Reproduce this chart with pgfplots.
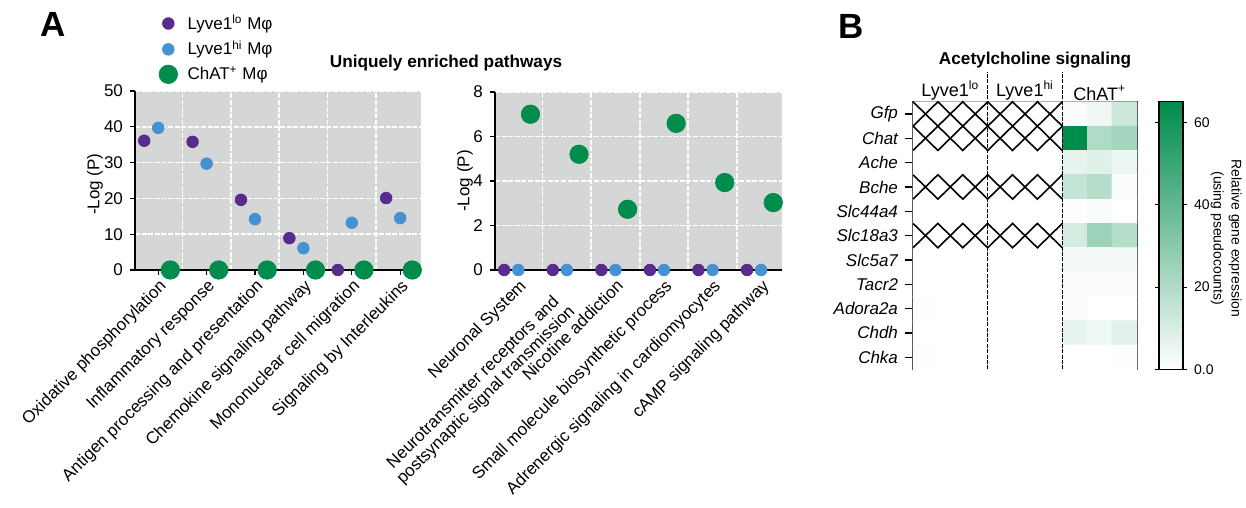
\documentclass[border=0pt]{standalone}
\usepackage{fontspec}
\setmainfont{Liberation Sans}
\usepackage{pgfplots}
\usepackage{pgfplotstable}
\pgfplotsset{compat=1.18}
\definecolor{cpurple}{RGB}{88,44,140}
\definecolor{cblue}{RGB}{70,145,210}
\definecolor{cgreen}{RGB}{0,140,75}
\definecolor{bggray}{RGB}{213,214,214}
\pgfplotsset{/pgf/number format/assume math mode=true}
\pgfplotsset{
 dotplot/.style={
   scale only axis, width=143pt, height=89.5pt,
   xmin=-0.48, xmax=5.43, ymin=0,
   axis x line*=bottom, axis y line*=left,
   axis line style={black, line width=0.65pt},
   axis background/.style={fill=bggray},
   xtick={0,...,5},
   minor xtick={0.5,1.5,2.5,3.5,4.5},
   xminorgrids, ymajorgrids,
   grid style={white, line width=0.8pt, dash pattern=on 2.5pt off 0.8pt},
   tick align=outside, major tick length=2.5pt, minor tick length=0pt,
   tick style={black, line width=0.65pt},
   x tick label style={rotate=45, anchor=north east, font=\fontsize{8.5}{9}\selectfont, align=center, inner sep=1pt},
   y tick label style={font=\fontsize{8.5}{10}\selectfont},
   ylabel={-Log (P)}, ylabel style={font=\fontsize{8.5}{10}\selectfont, anchor=center},
   clip=false,
 },
 legdot/.style={legend image code/.code={\draw[mark repeat=2,mark phase=2,##1] plot coordinates {(0pt,0pt)(5pt,0pt)(12pt,0pt)};}},
 pdot/.style={only marks, mark=*, mark size=2.9pt, color=cpurple, legdot},
 bdot/.style={only marks, mark=*, mark size=2.9pt, color=cblue, legdot},
 gdot/.style={only marks, mark=*, mark size=4.6pt, color=cgreen, legdot},
}
\pgfplotstableread{
x y c
0 0 0
1 0 0
2 0 0
3 0 0
4 0 0
5 0 0
6 0 1.5
7 0 4
8 0 13
0 1 0
1 1 0
2 1 0
3 1 0
4 1 0
5 1 0
6 1 65
7 1 20
8 1 23
0 2 0
1 2 0
2 2 0
3 2 0
4 2 0
5 2 0
6 2 6
7 2 8
8 2 5
0 3 0
1 3 0
2 3 0
3 3 0
4 3 0
5 3 0
6 3 15
7 3 19
8 3 1
0 4 0
1 4 0
2 4 0
3 4 0
4 4 0
5 4 0
6 4 0.3
7 4 1
8 4 0
0 5 0
1 5 0
2 5 0
3 5 0
4 5 0
5 5 0
6 5 11
7 5 25
8 5 19
0 6 0
1 6 0
2 6 0
3 6 0
4 6 0
5 6 0
6 6 3
7 6 3
8 6 3
0 7 0
1 7 0
2 7 0
3 7 0
4 7 0
5 7 0
6 7 1.5
7 7 1
8 7 1.5
0 8 0.8
1 8 0
2 8 0
3 8 0
4 8 0
5 8 0
6 8 1.5
7 8 0
8 8 0
0 9 0
1 9 0
2 9 0
3 9 0
4 9 0
5 9 0
6 9 6
7 9 4
8 9 7
0 10 0.8
1 10 0
2 10 0
3 10 0
4 10 0
5 10 0
6 10 0
7 10 0
8 10 0.3
}\heat
\begin{document}
\begin{tikzpicture}
\useasboundingbox (0,0) rectangle (623pt,254pt);
% ---------- left panel ----------
\begin{axis}[dotplot,
  at={(67.5pt,119pt)}, anchor=south west,
  ymax=50, ytick={0,10,...,50},
  ylabel style={at={(axis description cs:-0.14,0.48)}},
  xticklabels={Oxidative phosphorylation, Inflammatory response, Antigen processing and presentation, Chemokine signaling pathway, Mononuclear cell migration, Signaling by Interleukins},
  legend style={draw=none, fill=none, at={(axis description cs:0.083,1.45)}, anchor=north west,
    font=\fontsize{8.5}{10}\selectfont, row sep=0.3pt, inner sep=0pt,
    /tikz/every odd column/.append style={column sep=3pt}},
  legend cell align=left,
]
\addplot[pdot] coordinates {(-0.29,36.1) (0.71,35.8) (1.71,19.6) (2.71,8.9) (3.71,0) (4.71,20.1)};
\addplot[bdot] coordinates {(0,39.7) (1,29.7) (2,14.2) (3,6.1) (4,13.2) (5,14.5)};
\addplot[gdot] coordinates {(0.25,0) (1.25,0) (2.25,0) (3.25,0) (4.25,0) (5.25,0)};
\legend{Lyve1\textsuperscript{lo} Mφ, Lyve1\textsuperscript{hi} Mφ, ChAT\textsuperscript{+} Mφ}
\end{axis}
% ---------- middle panel ----------
\begin{axis}[dotplot,
  at={(247.5pt,119pt)}, anchor=south west, width=143.5pt, height=89pt,
  ymax=8, ytick={0,2,...,8},
  ylabel style={at={(axis description cs:-0.105,0.5)}},
  xticklabels={Neuronal System, {}, Nicotine addiction, Small molecule biosynthetic process, Adrenergic signaling in cardiomyocytes, cAMP signaling pathway},
  extra x ticks={1},
  extra x tick labels={{Neurotransmitter receptors and\\postsynaptic signal transmission}},
  extra x tick style={x tick label style={xshift=-9pt}},
]
\addplot[pdot] coordinates {(-0.29,0) (0.71,0) (1.71,0) (2.71,0) (3.71,0) (4.71,0)};
\addplot[bdot] coordinates {(0,0) (1,0) (2,0) (3,0) (4,0) (5,0)};
\addplot[gdot] coordinates {(0.25,7.0) (1.25,5.2) (2.25,2.73) (3.25,6.59) (4.25,3.93) (5.25,3.03)};
\end{axis}
% ---------- heatmap ----------
\begin{axis}[
  at={(456.5pt,69.3pt)}, anchor=south west, scale only axis, width=112pt, height=133.8pt,
  xmin=-0.5, xmax=8.5, ymin=-0.5, ymax=10.5, y dir=reverse, enlargelimits=false,
  axis line style={black, line width=0.65pt},
  xtick={1,4,7}, xticklabels={Lyve1\textsuperscript{lo}, Lyve1\textsuperscript{hi}, ChAT\textsuperscript{+}},
  xticklabel pos=upper, x tick style={draw=none},
  x tick label style={font=\fontsize{9}{10}\selectfont, yshift=-7pt},
  ytick={0,...,10},
  yticklabels={Gfp,Chat,Ache,Bche,Slc44a4,Slc18a3,Slc5a7,Tacr2,Adora2a,Chdh,Chka},
  ytick pos=left, y tick label style={font=\fontsize{8.5}{10}\selectfont\itshape},
  tick align=outside, major tick length=4pt, y tick style={black, line width=0.65pt},
  colormap={gr}{rgb255(0)=(255,255,255) rgb255(65)=(0,140,75)},
  point meta min=0, point meta max=65,
  colorbar,
  colorbar style={at={(parent axis.south east)}, anchor=south west, xshift=2.5pt,
    scale only axis, width=12pt, height=133.8pt,
    ytick={0,20,40,60}, yticklabels={0.0,20,40,60},
    y tick label style={font=\fontsize{7}{8}\selectfont},
    tick align=outside, major tick length=2pt, y tick style={black, line width=0.5pt},
    axis line style={black, line width=0.65pt},
    ylabel={Relative gene expression\\(using pseudocounts)},
    ylabel style={font=\fontsize{7}{9}\selectfont, align=center, rotate=180, at={(axis description cs:2.8,0.49)}, anchor=center}},
  clip=false,
]
\addplot[matrix plot*, mesh/cols=9, point meta=explicit] table[x=x, y=y, meta=c] {\heat};
\addplot[black, line width=0.8pt, no marks] coordinates {(-0.5,-0.5) (0.5,0.5) (1.5,-0.5) (2.5,0.5) (3.5,-0.5) (4.5,0.5) (5.5,-0.5)};
\addplot[black, line width=0.8pt, no marks] coordinates {(-0.5,0.5) (0.5,-0.5) (1.5,0.5) (2.5,-0.5) (3.5,0.5) (4.5,-0.5) (5.5,0.5)};
\addplot[black, line width=0.8pt, no marks] coordinates {(-0.5,0.5) (0.5,1.5) (1.5,0.5) (2.5,1.5) (3.5,0.5) (4.5,1.5) (5.5,0.5)};
\addplot[black, line width=0.8pt, no marks] coordinates {(-0.5,1.5) (0.5,0.5) (1.5,1.5) (2.5,0.5) (3.5,1.5) (4.5,0.5) (5.5,1.5)};
\addplot[black, line width=0.8pt, no marks] coordinates {(-0.5,2.5) (0.5,3.5) (1.5,2.5) (2.5,3.5) (3.5,2.5) (4.5,3.5) (5.5,2.5)};
\addplot[black, line width=0.8pt, no marks] coordinates {(-0.5,3.5) (0.5,2.5) (1.5,3.5) (2.5,2.5) (3.5,3.5) (4.5,2.5) (5.5,3.5)};
\addplot[black, line width=0.8pt, no marks] coordinates {(-0.5,4.5) (0.5,5.5) (1.5,4.5) (2.5,5.5) (3.5,4.5) (4.5,5.5) (5.5,4.5)};
\addplot[black, line width=0.8pt, no marks] coordinates {(-0.5,5.5) (0.5,4.5) (1.5,5.5) (2.5,4.5) (3.5,5.5) (4.5,4.5) (5.5,5.5)};
\draw[black, line width=0.65pt, dash pattern=on 2pt off 0.7pt] (axis cs:2.5,10.5) -- (axis cs:2.5,-0.5) -- ++(0pt,15pt);
\draw[black, line width=0.65pt, dash pattern=on 2pt off 0.7pt] (axis cs:5.5,10.5) -- (axis cs:5.5,-0.5) -- ++(0pt,15pt);
\end{axis}
% ---------- titles ----------
\node[font=\fontsize{8.6}{10}\selectfont\bfseries] at (223pt,222.5pt) {Uniquely enriched pathways};
\node[font=\fontsize{8.6}{10}\selectfont\bfseries] at (517.5pt,224pt) {Acetylcholine signaling};
\node[font=\fontsize{17.5}{20}\selectfont\bfseries] at (26.5pt,242pt) {A};
\node[font=\fontsize{17.5}{20}\selectfont\bfseries] at (425.5pt,241pt) {B};
\end{tikzpicture}
\end{document}
